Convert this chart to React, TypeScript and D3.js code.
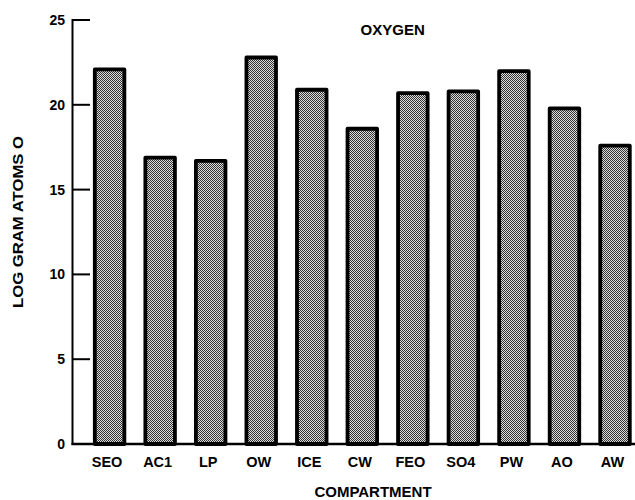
import React from "react";
import * as d3 from "d3";

const categories = ["SEO", "AC1", "LP", "OW", "ICE", "CW", "FEO", "SO4", "PW", "AO", "AW"];
const values = [22.2, 17.0, 16.8, 22.9, 21.0, 18.7, 20.8, 20.9, 22.1, 19.9, 17.7];
const yTicks = [0, 5, 10, 15, 20, 25];
const title = "OXYGEN";
const xTitle = "COMPARTMENT";
const yTitle = "LOG GRAM ATOMS O";

const W = 635;
const H = 500;
const FONT = "'Liberation Sans', Arial, Helvetica, sans-serif";

export default function App() {
  const x = d3
    .scaleBand<string>()
    .domain(categories)
    .range([72.7, 651.9])
    .paddingInner(0.34)
    .paddingOuter(0.4);
  const y = d3.scaleLinear().domain([0, 25]).range([444, 20]);
  const axisX = 72.5;
  const sw = 3.8;

  return (
    <svg
      width={W}
      height={H}
      viewBox={`0 0 ${W} ${H}`}
      style={{ position: "absolute", left: 0, top: 0, background: "#fff" }}
    >
      <defs>
        <pattern id="stipple" patternUnits="userSpaceOnUse" width={2} height={2}>
          <rect x={0} y={0} width={2} height={2} fill="#dcdcdc" />
          <rect x={0} y={0} width={1} height={1} fill="#333" />
          <rect x={1} y={1} width={1} height={1} fill="#333" />
        </pattern>
      </defs>
      <rect x={0} y={0} width={W} height={H} fill="#fff" />

      {/* bars */}
      {categories.map((c, i) => {
        const x0 = x(c)!;
        const bw = x.bandwidth();
        const top = y(values[i]);
        return (
          <rect
            key={c}
            x={x0 + sw / 2}
            y={top + sw / 2}
            width={bw - sw}
            height={y(0) - top - sw / 2}
            fill="url(#stipple)"
            stroke="#000"
            strokeWidth={sw}
            strokeLinejoin="round"
          />
        );
      })}

      {/* axes */}
      <line x1={axisX} x2={axisX} y1={y(25) - 1} y2={y(0) + 1} stroke="#000" strokeWidth={2} />
      <line x1={axisX - 1} x2={W} y1={y(0)} y2={y(0)} stroke="#000" strokeWidth={2.5} />
      {yTicks.map((t) => (
        <g key={t}>
          <line x1={axisX} x2={90} y1={y(t)} y2={y(t)} stroke="#000" strokeWidth={2} />
          <text
            x={65}
            y={y(t)}
            dy="0.36em"
            textAnchor="end"
            fontFamily={FONT}
            fontWeight="bold"
            fontSize={14}
            fill="#000"
          >
            {t}
          </text>
        </g>
      ))}

      {/* category labels */}
      {categories.map((c) => (
        <text
          key={c}
          x={x(c)! + x.bandwidth() / 2 - 2.5}
          y={467}
          textAnchor="middle"
          fontFamily={FONT}
          fontWeight="bold"
          fontSize={14.5}
          fill="#000"
        >
          {c}
        </text>
      ))}

      {/* titles */}
      <text x={392.7} y={35} textAnchor="middle" fontFamily={FONT} fontWeight="bold" fontSize={15} fill="#000">
        {title}
      </text>
      <text x={373} y={496.5} textAnchor="middle" fontFamily={FONT} fontWeight="bold" fontSize={15} fill="#000">
        {xTitle}
      </text>
      <text
        transform={`translate(23,222) rotate(-90)`}
        textAnchor="middle"
        fontFamily={FONT}
        fontWeight="bold"
        fontSize={15}
        textLength={172}
        lengthAdjust="spacingAndGlyphs"
        fill="#000"
      >
        {yTitle}
      </text>
    </svg>
  );
}
